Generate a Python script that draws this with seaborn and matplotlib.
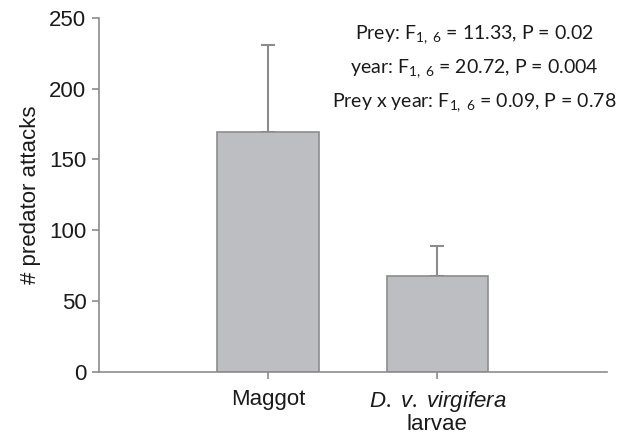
import matplotlib
matplotlib.use("Agg")
import matplotlib.pyplot as plt
import seaborn as sns
import pandas as pd

categories = ["Maggot", "D. v. virgifera larvae"]
means = [169.5, 68.0]
upper_err = [61.5, 21.0]
tick_labels = ["Maggot", "$\\it{D.\\ v.\\ virgifera}$\nlarvae"]
stats_lines = [
    "Prey: F$_{1,\\ 6}$ = 11.33, P = 0.02",
    "year: F$_{1,\\ 6}$ = 20.72, P = 0.004",
    "Prey x year: F$_{1,\\ 6}$ = 0.09, P = 0.78",
]

sns.set_style("white")
plt.rcParams["font.family"] = ["Liberation Sans", "DejaVu Sans"]
plt.rcParams["mathtext.fontset"] = "custom"
plt.rcParams["mathtext.rm"] = "Lato"
plt.rcParams["mathtext.it"] = "Liberation Sans:italic"

df = pd.DataFrame({"prey": categories, "attacks": means})

fig = plt.figure(figsize=(6.3, 4.36), dpi=100)
ax = fig.add_axes([0.157, 0.147, 0.806, 0.812])

bar_color = "#bdbec1"
edge_color = "#8c8c8c"
sns.barplot(data=df, x="prey", y="attacks", ax=ax, color=bar_color,
            edgecolor=edge_color, linewidth=1.2, width=0.6,
            errorbar=None, saturation=1)
ax.errorbar(range(len(means)), means, yerr=[[0] * len(means), upper_err],
            fmt="none", ecolor=edge_color, elinewidth=1.5, capsize=5,
            capthick=1.5, zorder=0)

ax.set_xlim(-1, 2)
ax.set_ylim(0, 250)
ax.set_yticks([0, 50, 100, 150, 200, 250])
ax.set_xticks([0, 1])
ax.set_xticklabels(tick_labels, fontsize=16, color="#1a1a1a", linespacing=1.0)
ax.tick_params(axis="y", labelsize=16, labelcolor="#1a1a1a", pad=4)
ax.tick_params(axis="x", pad=7)
ax.tick_params(axis="both", direction="out", length=5, width=1.2,
               color=edge_color, left=True, bottom=True)
ax.set_xlabel("")
ax.set_ylabel("# predator attacks", fontsize=16, color="#1a1a1a", labelpad=6)
for s in ["top", "right"]:
    ax.spines[s].set_visible(False)
for s in ["left", "bottom"]:
    ax.spines[s].set_color(edge_color)
    ax.spines[s].set_linewidth(1.2)

ys = [238, 214, 190]
for line, y in zip(stats_lines, ys):
    ax.text(1.22, y, line, ha="center", va="center", fontsize=14,
            family=["Lato", "DejaVu Sans"], color="#1a1a1a")

fig.savefig("out.png", dpi=100)
